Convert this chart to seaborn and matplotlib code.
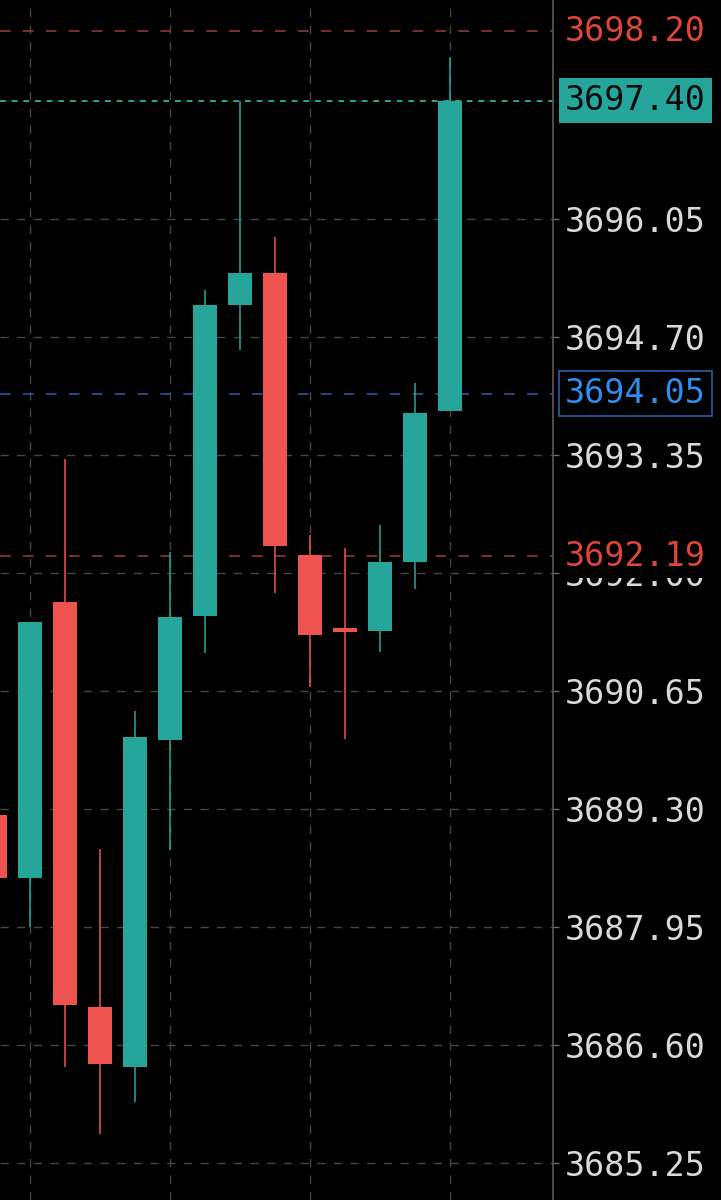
import numpy as np
import pandas as pd
import matplotlib
matplotlib.use("Agg")
import matplotlib.pyplot as plt
import matplotlib.transforms as mtransforms
import seaborn as sns

# ---- data ----
opens  = [3689.23, 3688.51, 3691.67, 3687.03, 3686.35, 3690.09, 3691.51,
          3695.07, 3695.43, 3692.21, 3691.37, 3691.34, 3692.13, 3693.85]
highs  = [3689.40, 3691.44, 3693.30, 3688.84, 3690.42, 3692.24, 3695.24,
          3697.40, 3695.84, 3692.43, 3692.29, 3692.55, 3694.17, 3697.90]
lows   = [3688.30, 3687.95, 3686.35, 3685.58, 3685.95, 3688.83, 3691.08,
          3694.55, 3691.77, 3690.70, 3690.10, 3691.10, 3691.82, 3693.85]
closes = [3688.51, 3691.44, 3687.06, 3686.38, 3690.12, 3691.50, 3695.07,
          3695.43, 3692.31, 3691.29, 3691.325, 3692.13, 3693.83, 3697.40]

tick_values = [3685.25, 3686.60, 3687.95, 3689.30, 3690.65,
               3692.00, 3693.35, 3694.70, 3696.05]
tick_labels = ["3685.25", "3686.60", "3687.95", "3689.30", "3690.65",
               "3692.00", "3693.35", "3694.70", "3696.05"]
vgrid_candles = [1, 5, 9, 13]

level_values = [3698.20, 3697.40, 3694.05, 3692.19]
level_labels = ["3698.20", "3697.40", "3694.05", "3692.19"]

# ---- style ----
UP = "#26a69a"
DOWN = "#ef5350"
FS = 24
sns.set_theme(style="dark", rc={
    "figure.facecolor": "black",
    "axes.facecolor": "black",
    "savefig.facecolor": "black",
    "axes.edgecolor": "#5a5a5a",
})
plt.rcParams["font.family"] = ["DejaVu Sans Mono", "DejaVu Sans"]

df = pd.DataFrame({"open": opens, "high": highs, "low": lows, "close": closes})
df["x"] = np.arange(len(df))
df["up"] = df["close"] >= df["open"]
df["color"] = np.where(df["up"], UP, DOWN)

fig = plt.figure(figsize=(7.21, 12.0), dpi=100)
ax = fig.add_axes([0, 0, 553 / 721, 1])

# wicks
ax.vlines(df["x"], df["low"], df["high"], colors=df["color"], lw=1.1, zorder=3)
# bodies
ax.bar(df["x"], (df["close"] - df["open"]).abs(),
       bottom=np.minimum(df["open"], df["close"]),
       width=0.69, color=df["color"], edgecolor="none", zorder=4)

ax.set_xlim(0.143, 15.94)
ax.set_ylim(3684.827, 3698.555)

# grid
ax.set_xticks(vgrid_candles)
ax.set_xticklabels([])
ax.tick_params(axis="x", length=0)
ax.set_yticks(tick_values)
ax.set_yticklabels(tick_labels)
ax.yaxis.tick_right()
ax.tick_params(axis="y", which="major", length=4, width=1, color="#6a6a6a",
               pad=4.5, labelsize=FS, labelcolor="#d9d9d9")
ax.grid(True, color="#454545", linestyle=(0, (6, 6)), linewidth=1.0, zorder=1)
for lbl in ax.get_yticklabels():
    lbl.set_fontfamily(["DejaVu Sans Mono", "DejaVu Sans"])

for side in ["left", "top", "bottom"]:
    ax.spines[side].set_visible(False)
ax.spines["right"].set_color("#5a5a5a")
ax.spines["right"].set_linewidth(1.2)

# price level lines
ax.axhline(level_values[0], color="#9a3d37", lw=1.1, linestyle=(0, (7, 8)), zorder=2)
ax.axhline(level_values[1], color=UP, lw=1.4, linestyle=(0, (3, 3)), zorder=2)
ax.axhline(level_values[2], color="#2d5fa6", lw=1.1, linestyle=(0, (7, 8)), zorder=2)
ax.axhline(level_values[3], color="#9a3d37", lw=1.1, linestyle=(0, (7, 8)), zorder=2)

trans = mtransforms.blended_transform_factory(ax.transAxes, ax.transData)
lx = 565 / 553
common = dict(transform=trans, fontsize=FS, va="center", ha="left",
              clip_on=False, zorder=10, family=["DejaVu Sans Mono", "DejaVu Sans"])
ax.text(lx, level_values[0], level_labels[0], color="#df453b",
        bbox=dict(boxstyle="square,pad=0.12", fc="black", ec="none"), **common)
ax.text(lx, level_values[1], level_labels[1], color="#0a0a0a",
        bbox=dict(boxstyle="square,pad=0.18", fc=UP, ec="none"), **common)
ax.text(lx, level_values[2], level_labels[2], color="#2f8ef0",
        bbox=dict(boxstyle="square,pad=0.18", fc="black", ec="#2a5fa8", lw=1.2), **common)
ax.text(lx, level_values[3], level_labels[3], color="#df453b",
        bbox=dict(boxstyle="square,pad=0.16", fc="black", ec="none"), **common)

fig.savefig("out.png", dpi=100, facecolor="black")
